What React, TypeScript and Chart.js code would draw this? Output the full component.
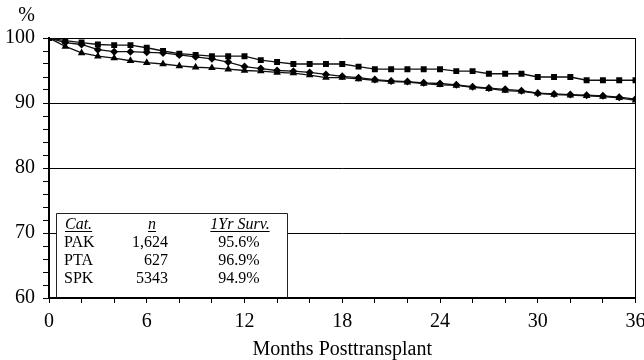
import React, { useEffect, useRef } from 'react';
import { Chart, registerables } from 'chart.js';

Chart.register(...registerables);

const MONTHS = [0, 1, 2, 3, 4, 5, 6, 7, 8, 9, 10, 11, 12, 13, 14, 15, 16, 17, 18, 19, 20, 21, 22, 23, 24, 25, 26, 27, 28, 29, 30, 31, 32, 33, 34, 35, 36];

const PTA = [100, 99.6, 99.3, 99.0, 98.9, 98.9, 98.5, 98.0, 97.6, 97.4, 97.2, 97.2, 97.2, 96.6, 96.3, 96.0, 96.0, 96.0, 96.0, 95.6, 95.2, 95.2, 95.2, 95.2, 95.2, 94.9, 94.9, 94.5, 94.5, 94.5, 94.0, 94.0, 94.0, 93.5, 93.5, 93.5, 93.5];
const PAK = [100, 99.3, 99.0, 98.2, 97.9, 97.9, 97.8, 97.7, 97.4, 97.1, 96.8, 96.3, 95.6, 95.3, 95.0, 94.9, 94.7, 94.4, 94.1, 93.9, 93.6, 93.4, 93.3, 93.1, 93.0, 92.8, 92.5, 92.3, 92.1, 91.9, 91.5, 91.4, 91.3, 91.2, 91.1, 90.9, 90.6];
const SPK = [100, 98.7, 97.7, 97.2, 96.9, 96.5, 96.2, 96.0, 95.7, 95.5, 95.4, 95.2, 95.0, 94.9, 94.7, 94.6, 94.3, 93.9, 93.9, 93.7, 93.5, 93.3, 93.2, 93.0, 92.8, 92.7, 92.4, 92.2, 91.9, 91.8, 91.5, 91.3, 91.2, 91.1, 91.0, 90.8, 90.4];

const X_TICK_LABELS = ['0', '6', '12', '18', '24', '30', '36'];
const Y_TICK_LABELS = ['60', '70', '80', '90', '100'];
const Y_GRID_VALUES = [70, 80, 90, 100];

const TABLE_HEADERS = ['Cat.', 'n', '1Yr Surv.'];
const TABLE_CATS = ['PAK', 'PTA', 'SPK'];
const TABLE_N = ['1,624', '627', '5343'];
const TABLE_SURV = ['95.6%', '96.9%', '94.9%'];

const X_TITLE = 'Months Posttransplant';
const Y_UNIT = '%';

const SERIF = '"Liberation Serif", "DejaVu Serif", serif';

const toPoints = (vals: number[]) => MONTHS.map((m, i) => ({ x: m, y: vals[i] }));

const decorPlugin = {
  id: 'decor',
  afterDatasetsDraw(chart: any) {
    const ctx: CanvasRenderingContext2D = chart.ctx;
    const { left, right, top, bottom } = chart.chartArea;
    ctx.save();

    // right border of plot area
    ctx.strokeStyle = '#000';
    ctx.lineWidth = 1;
    ctx.beginPath();
    ctx.moveTo(Math.round(right) - 0.5, top);
    ctx.lineTo(Math.round(right) - 0.5, bottom);
    ctx.stroke();

    // table box
    const bx0 = 56;
    const bx1 = 287;
    const by0 = 213;
    ctx.fillStyle = '#fff';
    ctx.fillRect(bx0, by0, bx1 - bx0, bottom - 1 - by0);
    ctx.strokeStyle = '#222';
    ctx.beginPath();
    ctx.moveTo(bx0 + 0.5, bottom);
    ctx.lineTo(bx0 + 0.5, by0 + 0.5);
    ctx.lineTo(bx1 + 0.5, by0 + 0.5);
    ctx.lineTo(bx1 + 0.5, bottom);
    ctx.stroke();

    ctx.fillStyle = '#000';
    ctx.textBaseline = 'alphabetic';

    // headers (italic, underlined)
    ctx.font = 'italic 16px ' + SERIF;
    const headerY = 229;
    const headerPos = [
      { x: 65, align: 'left' as CanvasTextAlign },
      { x: 152, align: 'center' as CanvasTextAlign },
      { x: 240, align: 'center' as CanvasTextAlign },
    ];
    TABLE_HEADERS.forEach((h, i) => {
      const p = headerPos[i];
      ctx.textAlign = p.align;
      ctx.fillText(h, p.x, headerY);
      const w = ctx.measureText(h).width;
      const x0 = p.align === 'left' ? p.x : p.x - w / 2;
      ctx.beginPath();
      ctx.lineWidth = 1;
      ctx.strokeStyle = '#000';
      ctx.moveTo(x0, headerY + 2.5);
      ctx.lineTo(x0 + w, headerY + 2.5);
      ctx.stroke();
    });

    // rows
    ctx.font = '16px ' + SERIF;
    TABLE_CATS.forEach((c, i) => {
      const y = 247 + i * 18;
      ctx.textAlign = 'left';
      ctx.fillText(c, 64, y);
      ctx.textAlign = 'right';
      ctx.fillText(TABLE_N[i], 168, y);
      ctx.textAlign = 'center';
      ctx.fillText(TABLE_SURV[i], 239, y);
    });

    // unit label
    ctx.font = '20px ' + SERIF;
    ctx.textAlign = 'center';
    ctx.fillText(Y_UNIT, 26.5, 21);

    ctx.restore();
  },
};

export default function App() {
  const canvasRef = useRef<HTMLCanvasElement | null>(null);

  useEffect(() => {
    if (!canvasRef.current) return;
    const common = {
      borderColor: '#111',
      backgroundColor: '#000',
      pointBackgroundColor: '#000',
      pointBorderColor: '#000',
      borderWidth: 1.3,
      pointBorderWidth: 0,
      tension: 0,
      fill: false,
    };
    const chart = new Chart(canvasRef.current, {
      type: 'line',
      data: {
        datasets: [
          { ...common, label: 'PTA', data: toPoints(PTA), pointStyle: 'rect', pointRadius: 4.2 },
          { ...common, label: 'PAK', data: toPoints(PAK), pointStyle: 'rectRot', pointRadius: 4 },
          { ...common, label: 'SPK', data: toPoints(SPK), pointStyle: 'triangle', pointRadius: 4.4 },
        ],
      },
      options: {
        animation: false,
        responsive: true,
        maintainAspectRatio: false,
        layout: { padding: { top: 38, right: 8.5, left: 0, bottom: 0 } },
        plugins: {
          legend: { display: false },
          tooltip: { enabled: false },
        },
        scales: {
          x: {
            type: 'linear',
            min: 0,
            max: 36,
            afterFit: (scale: any) => {
              scale.height = 62;
              scale.paddingLeft = 0;
              scale.paddingRight = 0;
            },
            ticks: {
              stepSize: 2,
              autoSkip: false,
              maxRotation: 0,
              padding: 7,
              color: '#000',
              font: { family: SERIF, size: 20 },
              callback: (v: any) => (X_TICK_LABELS.includes(String(v)) ? String(v) : ''),
            },
            grid: {
              drawOnChartArea: false,
              drawTicks: true,
              tickLength: 5,
              tickColor: '#000',
              tickWidth: 1,
            },
            border: { color: '#000', width: 2 },
            title: {
              display: true,
              text: X_TITLE,
              color: '#000',
              font: { family: SERIF, size: 20, lineHeight: 1.0 },
              padding: { top: 0, bottom: 0 },
            },
          },
          y: {
            type: 'linear',
            min: 60,
            max: 100,
            afterFit: (scale: any) => {
              scale.width = 49;
            },
            ticks: {
              stepSize: 2,
              autoSkip: false,
              padding: 8,
              color: '#000',
              font: { family: SERIF, size: 20 },
              callback: (v: any) => (Y_TICK_LABELS.includes(String(v)) ? String(v) : ''),
            },
            grid: {
              color: (c: any) => (c.tick && Y_GRID_VALUES.includes(c.tick.value) ? '#000' : 'rgba(0,0,0,0)'),
              lineWidth: 1,
              drawTicks: true,
              tickLength: 6,
              tickColor: '#000',
              tickWidth: 1,
            },
            border: { color: '#000', width: 2 },
          },
        },
      },
      plugins: [decorPlugin],
    } as any);
    return () => chart.destroy();
  }, []);

  return (
    <div style={{ position: 'fixed', left: 0, top: 0, width: 644, height: 360, background: '#fff' }}>
      <canvas ref={canvasRef} />
    </div>
  );
}
